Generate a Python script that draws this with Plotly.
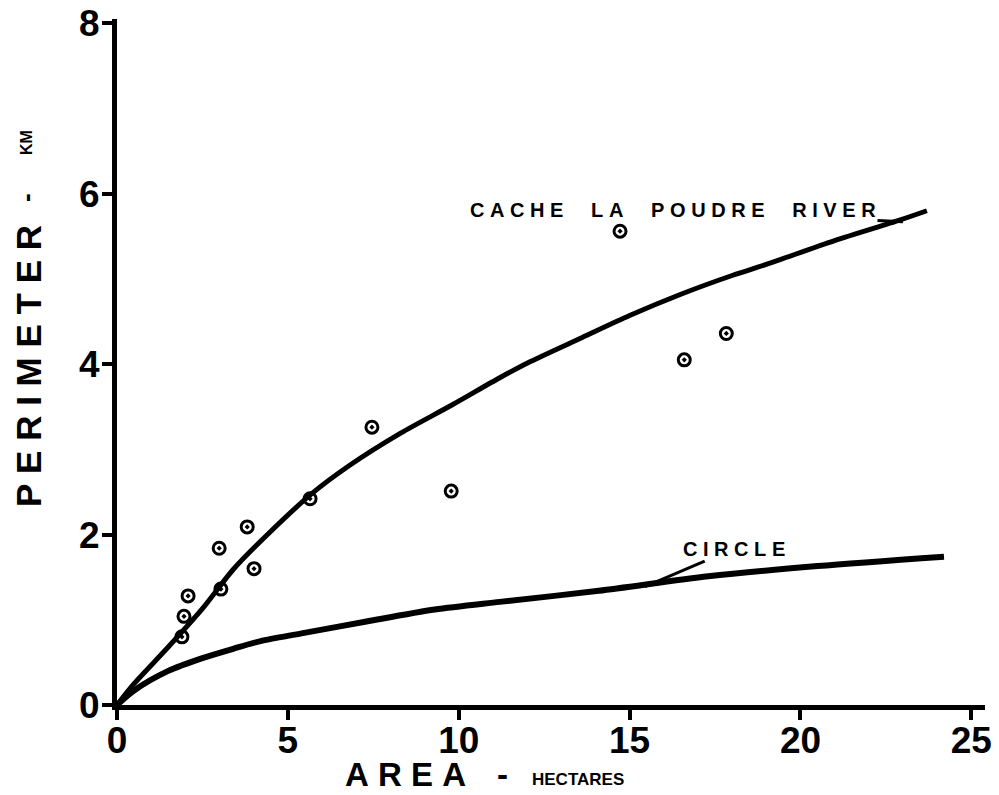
import plotly.graph_objects as go

# Observed data points (area in hectares, perimeter in km)
obs_area = [1.90, 1.96, 2.08, 2.99, 3.04, 3.81, 4.01, 5.65, 7.46, 9.78, 14.72, 16.60, 17.83]
obs_perim = [0.80, 1.04, 1.28, 1.84, 1.36, 2.09, 1.60, 2.42, 3.26, 2.51, 5.56, 4.05, 4.36]

# Cache la Poudre River fitted curve
river_area = [0, 0.5, 1.5, 2.5, 3.4, 4.3, 5.7, 6.8, 8.3, 9.8, 11.2, 12.1, 13.6, 15.0, 16.5, 18.0, 19.0, 21.0, 22.9, 23.7]
river_perim = [0, 0.25, 0.68, 1.13, 1.59, 1.96, 2.48, 2.81, 3.19, 3.52, 3.84, 4.03, 4.31, 4.57, 4.82, 5.04, 5.17, 5.45, 5.69, 5.80]

# Circle curve
circle_area = [0, 0.5, 1.5, 2.5, 3.4, 4.2, 5.4, 7.3, 9.3, 11.2, 14.1, 17.3, 20.5, 24.2]
circle_perim = [0, 0.17, 0.40, 0.55, 0.66, 0.75, 0.84, 0.98, 1.12, 1.21, 1.34, 1.51, 1.63, 1.74]

x_ticks = [0, 5, 10, 15, 20, 25]
y_ticks = [0, 2, 4, 6, 8]

FONT = "Liberation Sans, Arial, sans-serif"
NB = "\u00a0"

def spaced(s, gap=1, word=5):
    words = s.split(" ")
    return (NB * word).join((NB * gap).join(list(w)) for w in words)

fig = go.Figure()
fig.add_trace(go.Scatter(x=river_area, y=river_perim, mode="lines",
                         line=dict(color="black", width=5, shape="spline", smoothing=0.8),
                         hoverinfo="skip", showlegend=False))
fig.add_trace(go.Scatter(x=circle_area, y=circle_perim, mode="lines",
                         line=dict(color="black", width=6, shape="spline", smoothing=0.8),
                         hoverinfo="skip", showlegend=False))
fig.add_trace(go.Scatter(x=obs_area, y=obs_perim, mode="markers",
                         marker=dict(symbol="circle-open-dot", size=12, color="black",
                                     line=dict(width=3, color="black")),
                         showlegend=False, cliponaxis=False))

axis_common = dict(showline=True, linecolor="black", linewidth=5, showgrid=False,
                   zeroline=False, ticks="outside", ticklen=10, tickwidth=4,
                   tickcolor="black", automargin=False, ticklabeloverflow="allow",
                   tickfont=dict(family=FONT, size=37, color="black", weight="bold"))

fig.update_xaxes(range=[0, 25.4], tickvals=x_ticks, ticktext=[str(v) for v in x_ticks],
                 ticklabelstandoff=-11, **axis_common)
fig.update_yaxes(range=[0, 8.05], tickvals=y_ticks, ticktext=[str(v) for v in y_ticks],
                 ticklabelstandoff=-5, **axis_common)

# page is drawn with an 8px body offset
OFF = 8
W, H = 999 - OFF, 795 - OFF
L, R, T, B = 117 - OFF, 14, 19 - OFF, 90
pw, ph = W - L - R, H - T - B

def px(xp):
    return (xp - OFF - L) / pw

def py(yp):
    return (H - B - (yp - OFF)) / ph

ann = []
# Y axis title pieces
ann.append(dict(text=spaced("PERIMETER", 1, 1), x=px(28), y=py(366), xref="paper", yref="paper",
                textangle=-90, showarrow=False, xanchor="center", yanchor="middle",
                font=dict(family=FONT, size=35, color="black", weight="bold")))
ann.append(dict(text="-", x=px(26), y=py(198), xref="paper", yref="paper",
                textangle=-90, showarrow=False, xanchor="center", yanchor="middle",
                font=dict(family=FONT, size=26, color="black", weight="bold")))
ann.append(dict(text="KM", x=px(26), y=py(143), xref="paper", yref="paper",
                textangle=-90, showarrow=False, xanchor="center", yanchor="middle",
                font=dict(family=FONT, size=16, color="black", weight="bold")))
# X axis title pieces
ann.append(dict(text=spaced("AREA", 1, 1), x=px(405), y=py(774), xref="paper", yref="paper",
                showarrow=False, xanchor="center", yanchor="middle",
                font=dict(family=FONT, size=33, color="black", weight="bold")))
ann.append(dict(text="-", x=px(502), y=py(774), xref="paper", yref="paper",
                showarrow=False, xanchor="center", yanchor="middle",
                font=dict(family=FONT, size=33, color="black", weight="bold")))
ann.append(dict(text="HECTARES", x=px(578), y=py(779), xref="paper", yref="paper",
                showarrow=False, xanchor="center", yanchor="middle",
                font=dict(family=FONT, size=17, color="black", weight="bold")))
# Curve labels
ann.append(dict(text=spaced("CACHE LA POUDRE RIVER", 1, 5), x=23.0, y=5.67, xref="x", yref="y",
                ax=-230, ay=-12, showarrow=True, arrowhead=0, arrowwidth=3, arrowcolor="black",
                font=dict(family=FONT, size=20, color="black", weight="bold")))
ann.append(dict(text=spaced("CIRCLE", 1, 1), x=15.45, y=1.39, xref="x", yref="y",
                ax=89, ay=-38, showarrow=True, arrowhead=0, arrowwidth=3, arrowcolor="black",
                font=dict(family=FONT, size=20, color="black", weight="bold")))

fig.update_layout(width=W, height=H, margin=dict(l=L, r=R, t=T, b=B, pad=0, autoexpand=False),
                  plot_bgcolor="white", paper_bgcolor="white", annotations=ann,
                  showlegend=False)

fig.write_html("out.html")
